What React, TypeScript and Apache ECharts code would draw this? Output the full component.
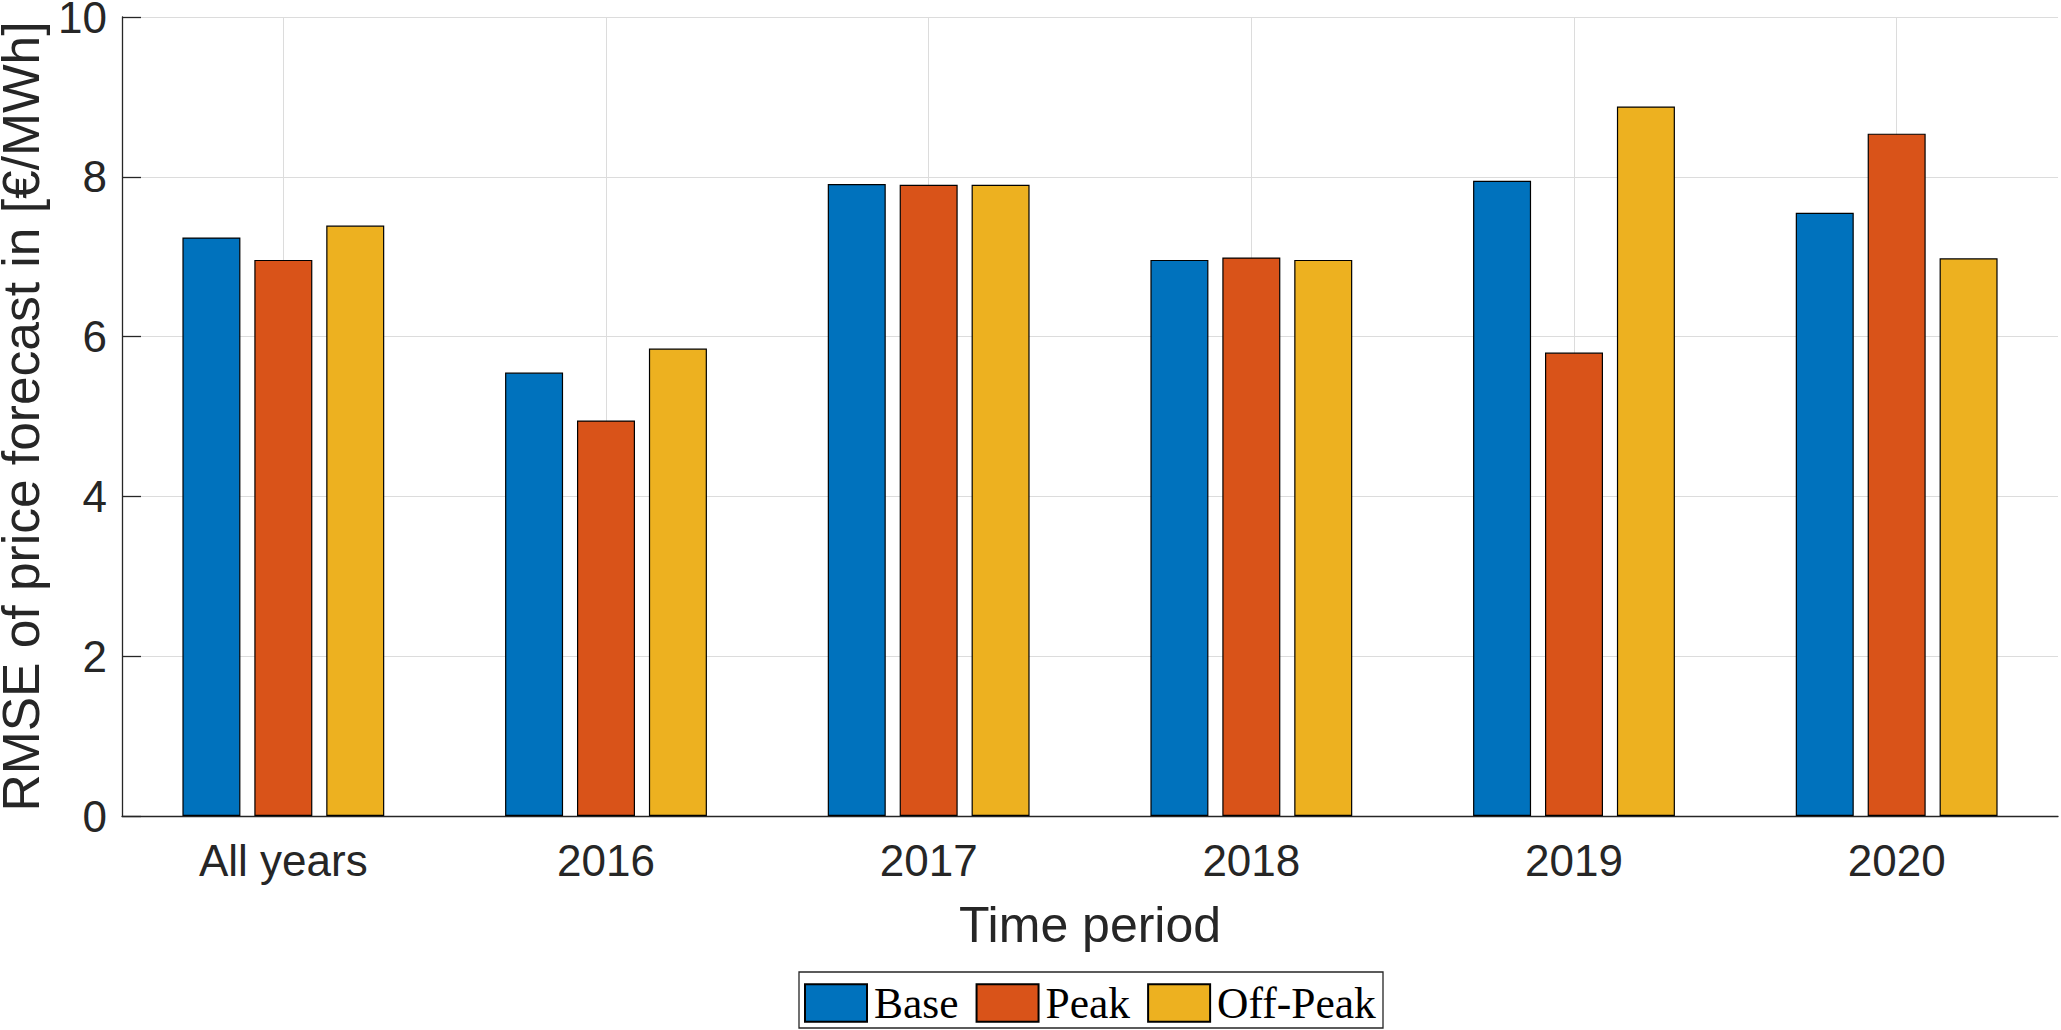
import React, { useEffect, useRef } from "react";
import * as echarts from "echarts";

const categories = ["All years", "2016", "2017", "2018", "2019", "2020"];
const baseValues = [7.24, 5.55, 7.91, 6.96, 7.95, 7.55];
const peakValues = [6.96, 4.95, 7.9, 6.99, 5.8, 8.54];
const offPeakValues = [7.39, 5.85, 7.9, 6.96, 8.88, 6.98];
const yTicks = { min: 0, max: 10, interval: 2 };

const SANS = "'Liberation Sans', Arial, Helvetica, sans-serif";
const SERIF = "'Liberation Serif', 'Times New Roman', serif";
const AX = "#262626";

export default function App() {
  const ref = useRef<HTMLDivElement>(null);
  useEffect(() => {
    if (!ref.current) return;
    const chart = echarts.init(ref.current, undefined, { renderer: "svg" });
    const mkSeries = (name: string, data: number[], color: string) => ({
      name,
      type: "bar",
      data,
      barWidth: 58,
      barGap: "24%",
      itemStyle: { color, borderColor: "#000", borderWidth: 1.2 },
    });
    chart.setOption({
      animation: false,
      backgroundColor: "#fff",
      grid: { left: 122, right: 3, top: 17, bottom: 214, containLabel: false, outerBoundsMode: "none" },
      graphic: [
        {
          type: "rect",
          z: 0,
          shape: { x: 799, y: 972, width: 584, height: 56 },
          style: { fill: "#fff", stroke: "#262626", lineWidth: 1.3 },
          silent: true,
        },
      ],
      legend: {
        show: true,
        top: 981,
        left: 804,
        orient: "horizontal",
        icon: "rect",
        itemWidth: 62,
        itemHeight: 37.5,
        itemGap: 17,
        padding: 0,
        borderWidth: 0,
        z: 10,
        textStyle: { fontFamily: SERIF, fontSize: 43.5, color: "#000", lineHeight: 37.5, padding: [6, 0, 0, 2] },
        data: ["Base", "Peak", "Off-Peak"],
      },
      xAxis: {
        type: "category",
        data: categories,
        boundaryGap: true,
        name: "Time period",
        nameLocation: "middle",
        nameGap: 84,
        nameTextStyle: { fontFamily: SANS, fontSize: 50, color: AX },
        axisLine: { show: true, lineStyle: { color: AX, width: 1.3 } },
        axisTick: { show: true, inside: true, length: 19, alignWithLabel: true, lineStyle: { color: AX } },
        axisLabel: { interval: 0, margin: 22, fontFamily: SANS, fontSize: 44, color: AX },
        splitLine: { show: true, alignWithLabel: true, lineStyle: { color: "#dcdcdc", width: 1 } },
      },
      yAxis: {
        type: "value",
        min: yTicks.min,
        max: yTicks.max,
        interval: yTicks.interval,
        name: "RMSE of price forecast in [€/MWh]",
        nameLocation: "middle",
        nameGap: 65,
        nameTextStyle: { fontFamily: SANS, fontSize: 51.5, lineHeight: 52, color: AX },
        axisLine: { show: true, lineStyle: { color: AX, width: 1.3 } },
        axisTick: { show: true, inside: true, length: 19, lineStyle: { color: AX, width: 1.3 } },
        axisLabel: { margin: 15, fontFamily: SANS, fontSize: 44, lineHeight: 34, color: AX },
        splitLine: { show: true, lineStyle: { color: "#dcdcdc", width: 1 } },
      },
      series: [
        mkSeries("Base", baseValues, "#0072BD"),
        mkSeries("Peak", peakValues, "#D95319"),
        mkSeries("Off-Peak", offPeakValues, "#EDB120"),
      ],
    });
    return () => chart.dispose();
  }, []);
  return (
    <div
      ref={ref}
      style={{ position: "fixed", left: 0, top: 0, width: "2061px", height: "1030px", background: "#fff" }}
    />
  );
}
